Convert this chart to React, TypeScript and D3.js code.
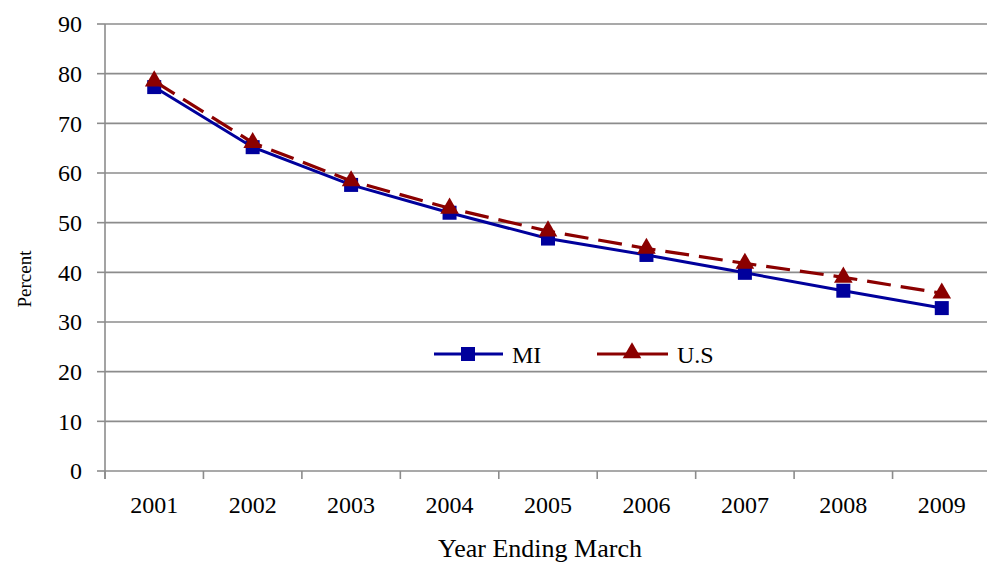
import React from "react";
import * as d3 from "d3";

const years = ["2001", "2002", "2003", "2004", "2005", "2006", "2007", "2008", "2009"];
const miValues = [77.3, 65.2, 57.6, 52.0, 46.8, 43.5, 39.9, 36.3, 32.8];
const usValues = [78.5, 66.1, 58.4, 52.9, 48.3, 44.8, 41.8, 39.0, 35.8];
const yTicks = [0, 10, 20, 30, 40, 50, 60, 70, 80, 90];

const W = 987;
const H = 563;
const left = 105;
const right = 991;
const top = 24;
const bottom = 471;

const MI_COLOR = "#00009C";
const US_COLOR = "#8B0000";
const GRID = "#8C8C8C";
const FONT = "Liberation Serif, Times New Roman, serif";
const textStyle = { fontFamily: FONT };

export default function App() {
  const x = d3.scaleBand<string>().domain(years).range([left, right]);
  const y = d3.scaleLinear().domain([0, 90]).range([bottom, top]);
  const cx = (yr: string) => (x(yr) as number) + x.bandwidth() / 2;

  const line = d3
    .line<number>()
    .x((_, i) => cx(years[i]))
    .y((d) => y(d));

  const tri = d3.symbol().type(d3.symbolTriangle).size(150)();

  const boundaries = years.map((yr) => x(yr) as number).concat([right]);

  return (
    <svg
      width={W}
      height={H}
      style={{ position: "absolute", left: 0, top: 0, background: "#fff" }}
    >
      {/* horizontal gridlines and y ticks */}
      {yTicks.map((t) => (
        <g key={t}>
          <line x1={left} x2={right} y1={y(t)} y2={y(t)} stroke={GRID} strokeWidth={1.6} />
          <line x1={left - 8} x2={left} y1={y(t)} y2={y(t)} stroke={GRID} strokeWidth={1.6} />
          <text
            x={82}
            y={y(t)}
            dy="0.35em"
            textAnchor="end"
            style={textStyle}
            fontSize={24}
            fill="#000"
          >
            {t}
          </text>
        </g>
      ))}
      {/* y axis */}
      <line x1={left} x2={left} y1={top} y2={bottom + 8} stroke={GRID} strokeWidth={1.6} />
      {/* x category boundary ticks */}
      {boundaries.map((b, i) => (
        <line key={i} x1={b} x2={b} y1={bottom} y2={bottom + 8} stroke={GRID} strokeWidth={1.6} />
      ))}
      {years.map((yr) => (
        <text
          key={yr}
          x={cx(yr)}
          y={505}
          dy="0.35em"
          textAnchor="middle"
          style={textStyle}
          fontSize={24}
          fill="#000"
        >
          {yr}
        </text>
      ))}
      <text
        x={540}
        y={548}
        dy="0.35em"
        textAnchor="middle"
        style={textStyle}
        fontSize={26}
        fill="#000"
      >
        Year Ending March
      </text>
      <text
        transform="translate(24,279) rotate(-90)"
        textAnchor="middle"
        dy="0.35em"
        style={textStyle}
        fontSize={19}
        fill="#000"
      >
        Percent
      </text>

      {/* MI series */}
      <path d={line(miValues) as string} fill="none" stroke={MI_COLOR} strokeWidth={3} />
      {miValues.map((v, i) => (
        <rect
          key={i}
          x={cx(years[i]) - 7}
          y={y(v) - 7}
          width={14}
          height={14}
          fill={MI_COLOR}
        />
      ))}

      {/* U.S series */}
      <path
        d={line(usValues) as string}
        fill="none"
        stroke={US_COLOR}
        strokeWidth={3.2}
        strokeDasharray="24,10"
      />
      {usValues.map((v, i) => (
        <path key={i} d={tri as string} transform={`translate(${cx(years[i])},${y(v)})`} fill={US_COLOR} />
      ))}

      {/* legend */}
      <g>
        <line x1={434} x2={503} y1={354} y2={354} stroke={MI_COLOR} strokeWidth={3} />
        <rect x={461} y={347} width={14} height={14} fill={MI_COLOR} />
        <text x={512} y={355} dy="0.35em" style={textStyle} fontSize={24} fill="#000">
          MI
        </text>
        <line x1={597} x2={668} y1={354} y2={354} stroke={US_COLOR} strokeWidth={3} />
        <path d={tri as string} transform="translate(632,353)" fill={US_COLOR} />
        <text x={677} y={355} dy="0.35em" style={textStyle} fontSize={24} fill="#000">
          U.S
        </text>
      </g>
    </svg>
  );
}
